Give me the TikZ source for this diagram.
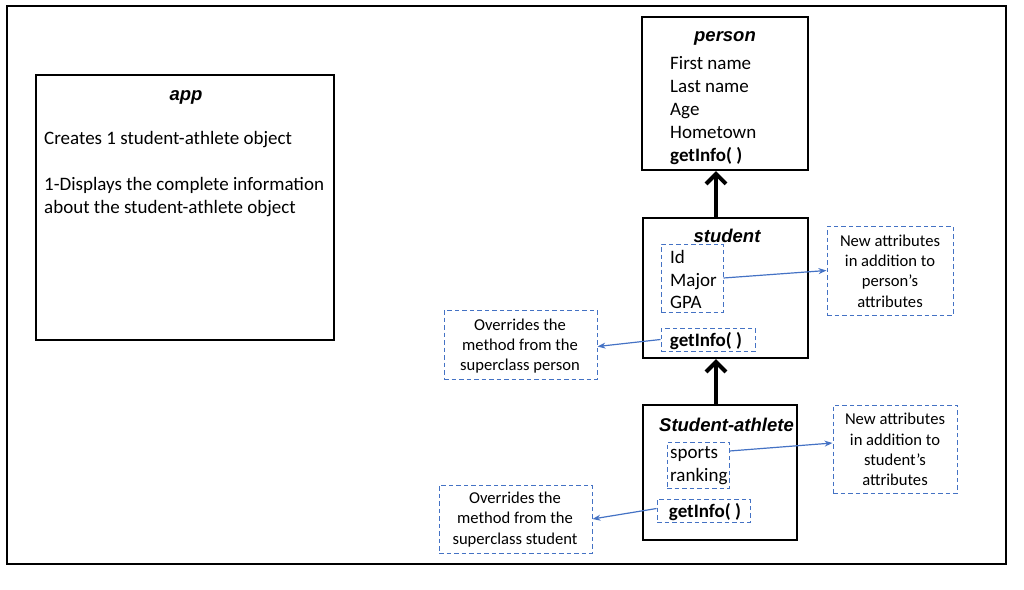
\documentclass[tikz,border=0pt]{standalone}
\usepackage{fontspec}
\setmainfont{Carlito}
\newfontfamily\titlefont{Liberation Sans}
\usetikzlibrary{arrows.meta}
\definecolor{offblue}{HTML}{4472C4}
\tikzset{
  frame/.style={draw=black, line width=1.2pt},
  classbox/.style={draw=black, line width=2.2pt, inner sep=0pt},
  dashbox/.style={draw=offblue, line width=1pt, dash pattern=on 4.5pt off 3pt, inner sep=0pt},
  notebox/.style={draw=offblue, dash pattern=on 4.5pt off 3pt, line width=1pt, inner sep=0pt},
  ctitle/.style={font=\titlefont\bfseries\itshape\fontsize{18.5}{22}\selectfont, inner sep=0pt, anchor=base},
  body/.style={font=\fontsize{19}{23}\selectfont, inner sep=0pt, anchor=base west},
  bodyb/.style={font=\bfseries\fontsize{19}{23}\selectfont, inner sep=0pt, anchor=base},
  notetxt/.style={font=\fontsize{16.6}{20.3}\selectfont, align=center, inner sep=0pt},
  inherit/.style={draw=black, line width=4pt, -{Straight Barb[length=10pt,width=20pt,line width=4pt]}},
  callout/.style={draw=offblue, line width=1.2pt, -{Stealth[length=8pt,width=6pt]}}
}
\begin{document}
\begin{tikzpicture}[x=1pt,y=-1pt]
\useasboundingbox (0,0) rectangle (1024,589);
\node[frame, minimum width=999pt, minimum height=558pt, inner sep=0pt] (outer) at (506.5,285) {};

% app
\node[classbox, minimum width=298pt, minimum height=265pt] (app) at (185,207.5) {};
\node[ctitle] (apptitle) at (186,100) {app};
\node[body] (app1) at (44,144) {Creates 1 student-athlete object};
\node[body] (app2) at (44,190) {1-Displays the complete information};
\node[body] (app3) at (44,213) {about the student-athlete object};

% person
\node[classbox, minimum width=166pt, minimum height=153pt] (person) at (725,93.5) {};
\node[ctitle] (ptitle) at (725,41) {person};
\node[body] (p1) at (670,69) {First name};
\node[body] (p2) at (670,92) {Last name};
\node[body] (p3) at (670,115) {Age};
\node[body] (p4) at (670,138) {Hometown};
\node[bodyb, anchor=base west] (p5) at (670,161) {getInfo( )};

% student
\node[classbox, minimum width=165pt, minimum height=140pt] (student) at (725.5,288) {};
\node[ctitle] (stitle) at (727,242) {student};
\node[dashbox, minimum width=62pt, minimum height=68pt] (sattr) at (692,278) {};
\node[body] (s1) at (670,263) {Id};
\node[body] (s2) at (670,286) {Major};
\node[body] (s3) at (670,308) {GPA};
\node[dashbox, minimum width=94pt, minimum height=23pt] (sget) at (708,339.5) {};
\node[bodyb] (sgett) at (706,346) {getInfo( )};

% student-athlete
\node[classbox, minimum width=154pt, minimum height=135pt] (athlete) at (720,472.5) {};
\node[ctitle] (atitle) at (726.5,431) {Student-athlete};
\node[dashbox, minimum width=62pt, minimum height=46pt] (aattr) at (698,465) {};
\node[body] (a1) at (670,458) {sports};
\node[body] (a2) at (670,481) {ranking};
\node[dashbox, minimum width=93pt, minimum height=23pt] (aget) at (703.5,510.5) {};
\node[bodyb] (agett) at (705,517) {getInfo( )};

% notes
\node[notebox, minimum width=126pt, minimum height=89pt] (n1) at (890,270.5) {};
\node[notetxt] (n1t) at (890,271) {New attributes\\in addition to\\person’s\\attributes};
\node[notebox, minimum width=153pt, minimum height=69pt] (n2) at (520.5,344.5) {};
\node[notetxt] (n2t) at (520,346) {Overrides the\\method from the\\superclass person};
\node[notebox, minimum width=124pt, minimum height=88pt] (n3) at (895,449) {};
\node[notetxt] (n3t) at (895,449.5) {New attributes\\in addition to\\student’s\\attributes};
\node[notebox, minimum width=153pt, minimum height=68pt] (n4) at (515.5,519) {};
\node[notetxt] (n4t) at (515,519.5) {Overrides the\\method from the\\superclass student};

% inheritance arrows
\draw[inherit] ([xshift=-9.5pt]student.north) -- ([xshift=-9pt]person.south);
\draw[inherit] ([xshift=-4pt]athlete.north) -- ([xshift=-9.5pt]student.south);

% callouts
\draw[callout] (sattr.east) -- (n1.west);
\draw[callout] (sget.west) -- ([yshift=-2pt]n2.east);
\draw[callout] ([yshift=14pt]aattr.east) -- ([yshift=6pt]n3.west);
\draw[callout] ([yshift=2pt]aget.west) -- (n4.east);
\end{tikzpicture}
\end{document}
